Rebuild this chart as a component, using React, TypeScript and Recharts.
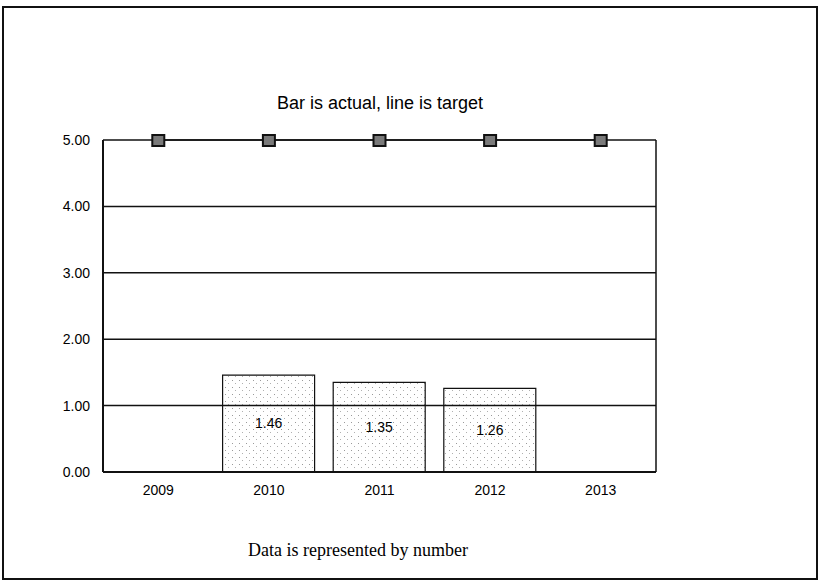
import React from 'react';
import { ComposedChart, Bar, Line, XAxis, YAxis, ReferenceLine, LabelList } from 'recharts';

const years = ['2009', '2010', '2011', '2012', '2013'];
const actual: (number | null)[] = [null, 1.46, 1.35, 1.26, null];
const target = [5, 5, 5, 5, 5];
const yTicks = [0, 1, 2, 3, 4, 5];
const gridValues = [1, 2, 3, 4, 5];

const data = years.map((y, i) => ({ year: y, actual: actual[i], target: target[i] }));

const SANS = 'Liberation Sans, Arial, sans-serif';

function SquareDot(props: any) {
  const { cx, cy } = props;
  if (cx == null || cy == null) return null;
  return (
    <rect x={cx - 6} y={cy - 5} width={12} height={11} fill="#7a7a7a" stroke="#111" strokeWidth={2} />
  );
}

function YTick({ x, y, payload }: any) {
  return (
    <text x={x - 5} y={y} dy={5} textAnchor="end" fontSize={14} fill="#000" fontFamily={SANS}>
      {Number(payload.value).toFixed(2)}
    </text>
  );
}

function XTick({ x, y, payload }: any) {
  return (
    <text x={x} y={y} dy={15} textAnchor="middle" fontSize={14} fill="#000" fontFamily={SANS}>
      {payload.value}
    </text>
  );
}

export default function App() {
  return (
    <div style={{ position: 'absolute', left: 0, top: 0, width: 818, height: 581, background: '#fff' }}>
      <div style={{ position: 'absolute', left: 2, top: 6, width: 812, height: 570, border: '2px solid #111' }} />
      <div style={{ position: 'absolute', left: 103, top: 93, width: 554, textAlign: 'center', fontSize: 18, fontFamily: SANS, color: '#000' }}>
        Bar is actual, line is target
      </div>
      <div style={{ position: 'absolute', left: 0, top: 540, width: 716, textAlign: 'center', fontSize: 18, fontFamily: 'Liberation Serif, Times New Roman, serif', color: '#000' }}>
        Data is represented by number
      </div>
      <div style={{ position: 'absolute', left: 0, top: 0 }}>
        <ComposedChart width={818} height={581} data={data} margin={{ top: 140, right: 161, bottom: 79, left: 0 }}>
          <defs>
            <pattern id="dots" width="7" height="7" patternUnits="userSpaceOnUse">
              <rect width="7" height="7" fill="#fff" />
              <rect x="1" y="2" width="1" height="1" fill="#9a9a9a" />
              <rect x="4" y="5" width="1" height="1" fill="#b0b0b0" />
            </pattern>
          </defs>
          <XAxis dataKey="year" axisLine={{ stroke: '#111', strokeWidth: 2 }} tickLine={false} tick={<XTick />} height={30} />
          <YAxis yAxisId="left" domain={[0, 5]} ticks={yTicks} axisLine={{ stroke: '#111', strokeWidth: 2 }} tickLine={false} tick={<YTick />} width={103} />
          <YAxis yAxisId="right" orientation="right" domain={[0, 5]} axisLine={{ stroke: '#111', strokeWidth: 1.5 }} tickLine={false} tick={false} width={1} />
          <Bar yAxisId="left" dataKey="actual" barSize={92} fill="url(#dots)" stroke="#111" strokeWidth={1.2} isAnimationActive={false}>
            <LabelList dataKey="actual" position="center" fill="#000" fontSize={14} fontFamily={SANS} formatter={(v: any) => (v == null ? '' : Number(v).toFixed(2))} />
          </Bar>
          {gridValues.map((v) => (
            <ReferenceLine key={v} yAxisId="left" y={v} stroke="#111" strokeWidth={1.5} />
          ))}
          <Line yAxisId="left" dataKey="target" stroke="#111" strokeWidth={1.5} dot={<SquareDot />} activeDot={false} isAnimationActive={false} />
        </ComposedChart>
      </div>
    </div>
  );
}
